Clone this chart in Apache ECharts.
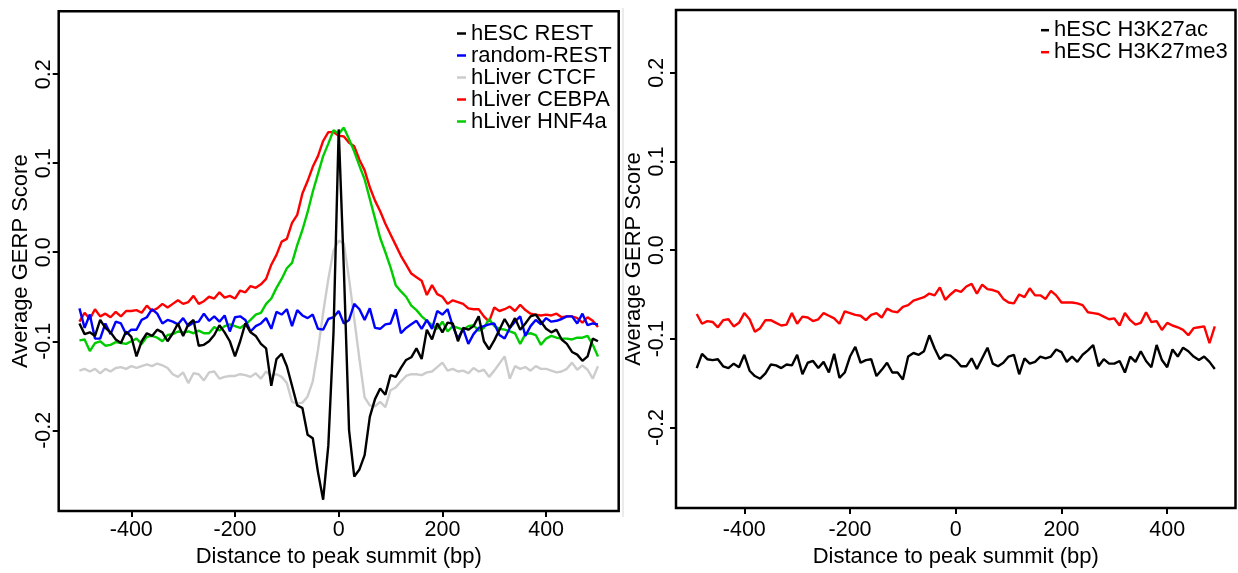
<!DOCTYPE html>
<html>
<head>
<meta charset="utf-8">
<script src="https://cdn.jsdelivr.net/npm/echarts@6/dist/echarts.min.js"></script>
<style>html,body{margin:0;padding:0;background:#fff;}#chart{width:1238px;height:573px;}</style>
</head>
<body>
<div id="chart"></div>
<script>
// ---------- data ----------
const bpLeft = [-500,-490,-480,-470,-460,-450,-440,-430,-420,-410,-400,-390,-380,-370,-360,-350,-340,-330,-320,-310,-300,-290,-280,-270,-260,-250,-240,-230,-220,-210,-200,-190,-180,-170,-160,-150,-140,-130,-120,-110,-100,-90,-80,-70,-60,-50,-40,-30,-20,-10,0,10,20,30,40,50,60,70,80,90,100,110,120,130,140,150,160,170,180,190,200,210,220,230,240,250,260,270,280,290,300,310,320,330,340,350,360,370,380,390,400,410,420,430,440,450,460,470,480,490,500];
const hescREST = [-0.080,-0.092,-0.090,-0.094,-0.076,-0.085,-0.090,-0.098,-0.102,-0.089,-0.095,-0.117,-0.100,-0.091,-0.094,-0.087,-0.090,-0.100,-0.091,-0.080,-0.094,-0.081,-0.076,-0.105,-0.104,-0.100,-0.093,-0.082,-0.090,-0.100,-0.117,-0.100,-0.080,-0.090,-0.094,-0.103,-0.108,-0.150,-0.120,-0.114,-0.128,-0.150,-0.172,-0.175,-0.205,-0.209,-0.247,-0.278,-0.217,-0.090,0.138,-0.020,-0.200,-0.252,-0.244,-0.228,-0.185,-0.165,-0.153,-0.160,-0.138,-0.140,-0.130,-0.121,-0.118,-0.108,-0.120,-0.087,-0.098,-0.080,-0.090,-0.079,-0.080,-0.100,-0.085,-0.087,-0.083,-0.072,-0.100,-0.109,-0.099,-0.087,-0.075,-0.085,-0.074,-0.087,-0.080,-0.072,-0.070,-0.078,-0.086,-0.090,-0.087,-0.098,-0.103,-0.112,-0.115,-0.122,-0.117,-0.097,-0.100];
const randomREST = [-0.063,-0.085,-0.070,-0.097,-0.097,-0.080,-0.092,-0.078,-0.080,-0.092,-0.087,-0.087,-0.076,-0.073,-0.064,-0.069,-0.080,-0.076,-0.078,-0.081,-0.074,-0.083,-0.079,-0.078,-0.069,-0.077,-0.072,-0.078,-0.071,-0.089,-0.073,-0.072,-0.076,-0.089,-0.083,-0.080,-0.074,-0.086,-0.067,-0.070,-0.064,-0.083,-0.065,-0.071,-0.074,-0.070,-0.086,-0.087,-0.075,-0.073,-0.066,-0.080,-0.076,-0.058,-0.064,-0.076,-0.063,-0.085,-0.086,-0.081,-0.080,-0.064,-0.091,-0.085,-0.081,-0.077,-0.086,-0.076,-0.086,-0.066,-0.070,-0.064,-0.083,-0.097,-0.086,-0.103,-0.092,-0.085,-0.083,-0.081,-0.080,-0.093,-0.097,-0.085,-0.078,-0.072,-0.094,-0.083,-0.076,-0.081,-0.074,-0.078,-0.077,-0.075,-0.072,-0.072,-0.080,-0.069,-0.082,-0.080,-0.081];
const liverCTCF = [-0.133,-0.131,-0.134,-0.131,-0.136,-0.131,-0.134,-0.130,-0.129,-0.131,-0.128,-0.130,-0.128,-0.126,-0.128,-0.125,-0.127,-0.130,-0.137,-0.140,-0.135,-0.147,-0.136,-0.137,-0.144,-0.135,-0.134,-0.142,-0.140,-0.139,-0.139,-0.137,-0.138,-0.140,-0.136,-0.142,-0.134,-0.139,-0.137,-0.140,-0.147,-0.168,-0.170,-0.169,-0.162,-0.145,-0.110,-0.068,-0.030,0.002,0.013,0.010,-0.030,-0.075,-0.120,-0.163,-0.172,-0.173,-0.168,-0.174,-0.155,-0.152,-0.145,-0.139,-0.137,-0.137,-0.138,-0.135,-0.134,-0.129,-0.124,-0.133,-0.131,-0.134,-0.133,-0.136,-0.130,-0.134,-0.132,-0.140,-0.133,-0.125,-0.117,-0.142,-0.128,-0.131,-0.129,-0.133,-0.128,-0.131,-0.131,-0.133,-0.135,-0.134,-0.131,-0.124,-0.132,-0.127,-0.132,-0.142,-0.128];
const liverCEBPA = [-0.078,-0.068,-0.075,-0.064,-0.072,-0.069,-0.073,-0.067,-0.072,-0.066,-0.066,-0.065,-0.068,-0.060,-0.066,-0.063,-0.058,-0.062,-0.058,-0.054,-0.058,-0.056,-0.049,-0.058,-0.055,-0.050,-0.052,-0.045,-0.051,-0.049,-0.052,-0.043,-0.045,-0.038,-0.040,-0.036,-0.030,-0.014,-0.003,0.012,0.015,0.033,0.042,0.066,0.080,0.096,0.108,0.125,0.135,0.135,0.131,0.130,0.123,0.119,0.104,0.092,0.073,0.058,0.046,0.032,0.020,0.008,-0.004,-0.014,-0.024,-0.028,-0.032,-0.048,-0.037,-0.047,-0.050,-0.058,-0.054,-0.056,-0.058,-0.063,-0.064,-0.064,-0.072,-0.078,-0.062,-0.066,-0.064,-0.061,-0.066,-0.059,-0.065,-0.069,-0.070,-0.071,-0.070,-0.071,-0.069,-0.073,-0.072,-0.072,-0.074,-0.079,-0.073,-0.077,-0.084];
const liverHNF4a = [-0.099,-0.098,-0.111,-0.102,-0.100,-0.105,-0.104,-0.101,-0.102,-0.103,-0.100,-0.097,-0.103,-0.095,-0.094,-0.096,-0.100,-0.093,-0.092,-0.089,-0.090,-0.089,-0.091,-0.088,-0.091,-0.091,-0.084,-0.088,-0.083,-0.081,-0.083,-0.085,-0.081,-0.076,-0.070,-0.068,-0.058,-0.052,-0.040,-0.030,-0.018,-0.012,0.008,0.025,0.045,0.068,0.088,0.108,0.122,0.137,0.133,0.140,0.127,0.113,0.097,0.082,0.060,0.038,0.016,0.000,-0.017,-0.037,-0.044,-0.050,-0.060,-0.065,-0.072,-0.077,-0.082,-0.086,-0.078,-0.089,-0.083,-0.085,-0.087,-0.083,-0.082,-0.088,-0.085,-0.075,-0.083,-0.086,-0.087,-0.089,-0.091,-0.103,-0.092,-0.091,-0.093,-0.104,-0.097,-0.094,-0.096,-0.097,-0.097,-0.098,-0.096,-0.096,-0.094,-0.104,-0.117];

const bpRight = [-490,-480,-470,-460,-450,-440,-430,-420,-410,-400,-390,-380,-370,-360,-350,-340,-330,-320,-310,-300,-290,-280,-270,-260,-250,-240,-230,-220,-210,-200,-190,-180,-170,-160,-150,-140,-130,-120,-110,-100,-90,-80,-70,-60,-50,-40,-30,-20,-10,0,10,20,30,40,50,60,70,80,90,100,110,120,130,140,150,160,170,180,190,200,210,220,230,240,250,260,270,280,290,300,310,320,330,340,350,360,370,380,390,400,410,420,430,440,450,460,470,480,490];
const h3k27ac = [-0.133,-0.117,-0.123,-0.124,-0.123,-0.131,-0.133,-0.128,-0.132,-0.118,-0.136,-0.142,-0.145,-0.139,-0.129,-0.130,-0.133,-0.129,-0.130,-0.118,-0.140,-0.127,-0.125,-0.133,-0.126,-0.138,-0.117,-0.144,-0.138,-0.120,-0.109,-0.127,-0.124,-0.123,-0.142,-0.135,-0.127,-0.138,-0.138,-0.146,-0.120,-0.116,-0.118,-0.114,-0.096,-0.111,-0.123,-0.118,-0.119,-0.124,-0.131,-0.131,-0.122,-0.134,-0.122,-0.110,-0.128,-0.131,-0.127,-0.120,-0.118,-0.140,-0.122,-0.128,-0.126,-0.120,-0.122,-0.120,-0.112,-0.115,-0.126,-0.120,-0.126,-0.118,-0.113,-0.107,-0.131,-0.123,-0.128,-0.128,-0.125,-0.138,-0.120,-0.126,-0.114,-0.125,-0.132,-0.107,-0.124,-0.132,-0.112,-0.120,-0.110,-0.114,-0.120,-0.124,-0.120,-0.126,-0.134];
const h3k27me3 = [-0.072,-0.083,-0.080,-0.081,-0.087,-0.079,-0.078,-0.086,-0.082,-0.071,-0.078,-0.092,-0.088,-0.079,-0.079,-0.082,-0.085,-0.084,-0.071,-0.083,-0.075,-0.076,-0.080,-0.078,-0.071,-0.074,-0.077,-0.083,-0.069,-0.071,-0.073,-0.074,-0.079,-0.073,-0.071,-0.076,-0.066,-0.069,-0.070,-0.064,-0.062,-0.057,-0.055,-0.053,-0.049,-0.051,-0.042,-0.056,-0.050,-0.045,-0.047,-0.041,-0.038,-0.049,-0.039,-0.044,-0.045,-0.047,-0.055,-0.059,-0.060,-0.050,-0.053,-0.043,-0.051,-0.051,-0.055,-0.046,-0.051,-0.059,-0.059,-0.059,-0.060,-0.062,-0.070,-0.071,-0.072,-0.075,-0.078,-0.077,-0.085,-0.071,-0.079,-0.084,-0.082,-0.070,-0.081,-0.080,-0.090,-0.082,-0.085,-0.087,-0.090,-0.096,-0.088,-0.087,-0.086,-0.105,-0.086];

const xTicks = [-400, -200, 0, 200, 400];
const yTicks = [-0.2, -0.1, 0.0, 0.1, 0.2];
const leftNames = ['hESC REST', 'random-REST', 'hLiver CTCF', 'hLiver CEBPA', 'hLiver HNF4a'];
const rightNames = ['hESC H3K27ac', 'hESC H3K27me3'];

// ---------- chart ----------
const FONT = '"Liberation Sans", Arial, Helvetica, sans-serif';
const pairs = (xs, ys) => xs.map((x, i) => [x, ys[i]]);

function xAxisCfg(idx, range, gap, margin) {
  return {
    gridIndex: idx, type: 'value', min: -range, max: range,
    name: 'Distance to peak summit (bp)', nameLocation: 'middle', nameGap: gap,
    nameTextStyle: { fontSize: 22, color: '#000', fontFamily: FONT },
    axisLine: { show: false, onZero: false }, splitLine: { show: false },
    axisTick: { show: true, length: 6, lineStyle: { color: '#000', width: 2 }, customValues: xTicks },
    axisLabel: { customValues: xTicks, fontSize: 21.5, color: '#000', margin: margin, fontFamily: FONT }
  };
}
function yAxisCfg(idx, margin, gap) {
  return {
    gridIndex: idx, type: 'value', min: -0.2908, max: 0.2708,
    name: 'Average GERP Score', nameLocation: 'middle', nameGap: gap, nameRotate: 90,
    nameTextStyle: { fontSize: 22, color: '#000', fontFamily: FONT },
    axisLine: { show: false, onZero: false }, splitLine: { show: false },
    axisTick: { show: true, length: 6, lineStyle: { color: '#000', width: 2 }, customValues: yTicks },
    axisLabel: { customValues: yTicks, rotate: 90, fontSize: 21.5, color: '#000', margin: margin, fontFamily: FONT,
      formatter: v => Number(v).toFixed(1) }
  };
}
function line(name, xs, ys, color, gi) {
  return {
    name: name, type: 'line', xAxisIndex: gi, yAxisIndex: gi,
    data: pairs(xs, ys), showSymbol: false, symbol: 'none',
    lineStyle: { color: color, width: 2.4 }, itemStyle: { color: color },
    emphasis: { disabled: true }
  };
}

const chart = echarts.init(document.getElementById('chart'), null, { renderer: 'canvas' });
chart.setOption({
  animation: false,
  backgroundColor: '#ffffff',
  textStyle: { fontFamily: FONT },
  grid: [
    { left: 58.7, top: 11.2, width: 560, height: 504.6, show: true, borderColor: '#000', borderWidth: 2.5, backgroundColor: 'transparent' },
    { left: 676, top: 10, width: 559.5, height: 503.7, show: true, borderColor: '#000', borderWidth: 2.5, backgroundColor: 'transparent' }
  ],
  xAxis: [ xAxisCfg(0, 540, 33.7, 8), xAxisCfg(1, 529.2, 38, 11) ],
  yAxis: [ yAxisCfg(0, 4, 25), yAxisCfg(1, 8, 25) ],
  legend: [
    { data: leftNames, orient: 'vertical', left: 457, top: 22.5, padding: 0, itemGap: 0,
      itemWidth: 9, itemHeight: 2.5, icon: 'rect', selectedMode: false,
      textStyle: { fontSize: 22, lineHeight: 19, color: '#000', fontFamily: FONT } },
    { data: rightNames, orient: 'vertical', left: 1041, top: 19.2, padding: 0, itemGap: 0,
      itemWidth: 8, itemHeight: 2.5, icon: 'rect', selectedMode: false,
      textStyle: { fontSize: 22, lineHeight: 20, color: '#000', fontFamily: FONT } }
  ],
  graphic: [
    { type: 'line', shape: { x1: 623, y1: 8, x2: 623, y2: 517 }, style: { stroke: '#e4e4e4', lineWidth: 1.5 }, silent: true }
  ],
  series: [
    line('hLiver CTCF', bpLeft, liverCTCF, '#CCCCCC', 0),
    line('hLiver CEBPA', bpLeft, liverCEBPA, '#FF0000', 0),
    line('hLiver HNF4a', bpLeft, liverHNF4a, '#00CD00', 0),
    line('random-REST', bpLeft, randomREST, '#0000FF', 0),
    line('hESC REST', bpLeft, hescREST, '#000000', 0),
    line('hESC H3K27ac', bpRight, h3k27ac, '#000000', 1),
    line('hESC H3K27me3', bpRight, h3k27me3, '#FF0000', 1)
  ]
});
</script>
</body>
</html>
